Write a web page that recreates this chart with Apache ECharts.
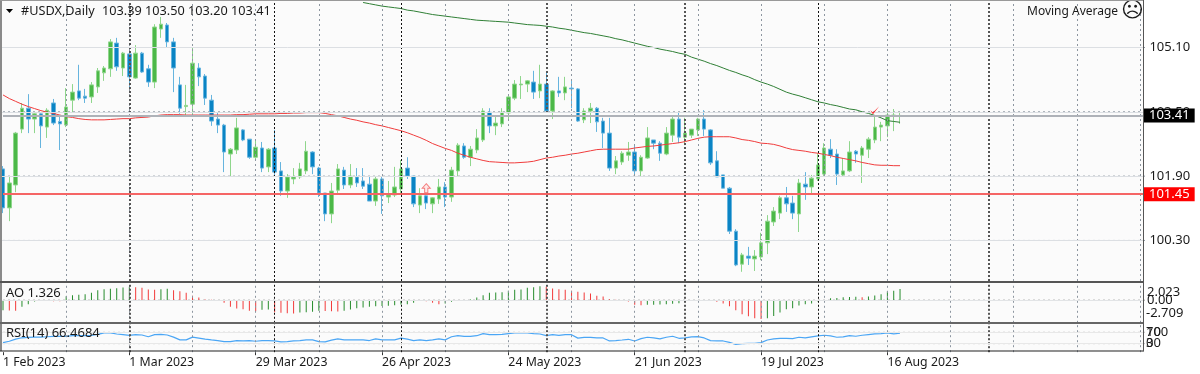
<!DOCTYPE html>
<html>
<head>
<meta charset="utf-8">
<title>#USDX Daily</title>
<style>
html, body { margin: 0; padding: 0; background: #fff; }
#wrap { position: relative; width: 1200px; height: 374px; }
#panes { position: absolute; left: 2px; top: 1px; width: 1141px; height: 350px; background: #fbfbfb; }
#main { position: absolute; left: 0; top: 0; width: 1200px; height: 374px; }
</style>
<script src="https://cdn.jsdelivr.net/npm/echarts@6/dist/echarts.min.js"></script>
</head>
<body>
<div id="wrap">
<div id="panes"></div>
<div id="main"></div>
</div>
<script>
// prices, one value per daily bar
var opens = [102.08,101.11,101.68,103.07,103.59,103.32,103.45,103.12,103.72,103.26,
103.17,103.79,104.02,103.89,103.87,104.12,104.47,104.57,105.21,104.59,
104.94,104.34,104.96,104.57,104.24,105.56,105.66,105.24,104.17,103.63,
103.69,104.59,104.39,103.79,103.32,103.17,102.45,102.55,103.05,102.82,
102.37,102.60,102.13,102.60,102.03,101.53,101.83,101.88,102.03,102.50,
102.10,101.48,100.96,101.55,102.05,101.68,101.88,101.78,101.70,101.28,
101.83,101.38,101.43,101.58,102.10,101.90,101.18,101.41,101.21,101.33,
101.63,101.38,102.03,102.65,102.37,102.55,102.80,103.49,103.15,103.20,
103.47,103.84,104.17,104.19,104.24,104.02,104.19,103.52,104.02,103.97,
104.09,104.07,103.30,103.52,103.59,103.27,102.97,102.10,102.25,102.42,
102.50,102.03,102.35,102.80,102.72,102.45,102.92,103.32,102.87,102.92,
103.05,103.32,103.05,102.28,101.93,101.60,100.53,99.71,99.91,99.84,
99.89,100.24,100.76,100.98,101.36,101.23,100.96,101.70,101.63,101.83,
101.95,102.57,102.45,101.93,102.03,102.52,102.42,102.57,102.80,103.12,
103.15,103.40,103.39];
var closes = [101.11,101.73,102.97,103.59,103.32,103.45,103.15,103.54,103.22,103.20,
103.62,103.99,103.84,103.84,104.17,104.52,104.59,105.24,104.62,104.96,
104.37,104.96,104.49,104.24,105.61,105.68,105.24,104.59,103.59,103.66,
104.71,104.37,103.84,103.27,103.17,102.50,102.57,103.10,102.80,102.37,
102.62,102.10,102.57,102.00,101.53,101.88,101.88,102.08,102.52,102.13,
101.48,100.96,101.53,102.08,101.68,101.90,101.73,101.65,101.28,101.83,
101.41,101.43,101.63,102.08,101.90,101.21,101.41,101.23,101.36,101.63,
101.38,102.05,102.67,102.37,102.57,102.85,103.52,103.15,103.22,103.49,
103.87,104.19,104.19,104.27,103.99,104.19,103.52,104.02,103.97,104.12,
104.07,103.27,103.52,103.59,103.25,102.97,102.10,102.28,102.47,102.50,
102.03,102.37,102.85,102.72,102.47,102.97,103.32,102.87,102.97,103.07,
103.32,103.07,102.23,101.88,101.60,100.53,99.69,99.94,99.86,99.91,
100.24,100.78,101.03,101.36,101.21,100.98,101.73,101.63,101.85,102.18,
102.60,102.42,101.95,102.03,102.50,102.45,102.60,102.82,103.12,103.17,
103.42,103.42,103.41];
var lows = [100.98,100.78,101.50,102.97,102.97,102.97,102.60,102.85,103.17,102.55,
103.12,103.49,103.79,103.72,103.72,103.97,104.27,104.37,104.52,104.39,
104.04,104.32,104.47,104.12,104.09,105.34,105.11,103.99,103.45,103.42,
103.37,104.14,103.67,103.15,102.97,102.00,101.88,102.45,102.77,102.33,
102.30,102.00,102.00,101.93,101.41,101.36,101.70,101.83,101.95,101.95,
101.38,100.78,100.73,101.48,101.58,101.60,101.63,101.58,101.28,101.16,
100.96,101.23,101.38,101.43,101.83,101.13,100.98,101.08,100.98,101.21,
101.13,101.26,101.90,102.33,102.15,102.47,102.75,102.97,102.92,103.12,
103.32,103.79,103.82,103.99,103.82,103.84,103.49,103.32,103.87,103.79,
103.59,103.25,103.22,103.22,103.00,102.60,102.03,101.95,102.18,102.28,
101.95,101.88,102.33,102.57,102.28,102.42,102.75,102.72,102.67,102.85,
102.90,102.90,102.18,101.88,101.60,100.46,99.66,99.52,99.69,99.54,
99.81,99.96,100.66,100.83,101.01,100.83,100.51,101.31,101.48,101.78,
101.88,102.35,101.68,101.90,102.00,102.23,101.73,102.35,102.72,102.77,
102.87,103.02,103.20];
var highs = [102.15,101.90,103.00,103.72,103.94,103.47,103.47,103.59,103.82,103.38,
104.09,104.19,104.67,104.07,104.24,104.59,104.64,105.31,105.34,104.99,
105.09,105.16,104.99,104.67,105.68,105.86,105.71,105.34,104.37,104.17,
105.09,104.71,104.44,103.92,103.49,103.20,102.60,103.35,103.07,102.82,
102.82,102.75,102.60,103.05,102.25,101.95,102.10,102.23,102.77,102.52,
102.13,101.48,101.73,102.20,102.13,102.20,102.10,102.10,101.88,101.90,
101.88,101.78,102.13,102.30,102.37,101.90,101.60,101.55,101.38,101.83,
101.75,102.13,102.72,102.72,102.65,103.07,103.59,103.59,103.37,103.59,
103.89,104.29,104.39,104.29,104.52,104.67,104.47,104.04,104.37,104.37,
104.27,104.09,103.59,103.72,103.62,103.35,103.35,102.40,102.52,102.75,
102.67,102.42,103.12,102.80,102.77,103.12,103.40,103.49,103.35,103.07,
103.35,103.54,103.07,102.52,101.93,101.63,100.58,99.99,100.14,100.06,
100.49,100.93,101.13,101.41,101.63,101.41,101.83,102.00,101.93,102.47,
102.72,102.82,102.57,102.35,102.77,102.55,102.65,102.87,103.40,103.25,
103.57,103.57,103.50];

// red moving average
var maFast = [103.92,103.83,103.76,103.69,103.63,103.58,103.53,103.49,103.46,103.42,
103.38,103.36,103.33,103.31,103.30,103.30,103.30,103.31,103.32,103.33,
103.33,103.35,103.36,103.37,103.40,103.42,103.43,103.43,103.43,103.42,
103.42,103.42,103.42,103.42,103.42,103.42,103.42,103.43,103.43,103.44,
103.45,103.45,103.45,103.45,103.46,103.46,103.47,103.47,103.48,103.48,
103.48,103.46,103.43,103.40,103.36,103.32,103.29,103.25,103.22,103.18,
103.15,103.11,103.07,103.03,102.98,102.92,102.86,102.79,102.71,102.65,
102.59,102.54,102.47,102.42,102.37,102.33,102.29,102.26,102.25,102.24,
102.23,102.23,102.24,102.25,102.27,102.31,102.35,102.37,102.40,102.42,
102.45,102.47,102.50,102.53,102.56,102.57,102.57,102.57,102.57,102.57,
102.60,102.62,102.64,102.65,102.67,102.69,102.71,102.73,102.76,102.80,
102.84,102.87,102.88,102.88,102.88,102.88,102.85,102.81,102.79,102.76,
102.72,102.71,102.69,102.65,102.60,102.56,102.54,102.52,102.49,102.47,
102.44,102.41,102.37,102.34,102.31,102.28,102.24,102.21,102.18,102.17,
102.17,102.16,102.16];
// green moving average, above the top of the pane before this bar
var maSlowStart = 57;
var maSlow = [106.22,106.19,106.16,106.13,106.11,106.09,106.07,106.03,106.01,105.98,
105.95,105.92,105.90,105.88,105.86,105.84,105.82,105.80,105.78,105.77,
105.76,105.75,105.74,105.73,105.71,105.69,105.67,105.66,105.65,105.63,
105.61,105.58,105.56,105.53,105.50,105.47,105.45,105.42,105.39,105.36,
105.32,105.29,105.25,105.21,105.17,105.13,105.10,105.06,105.03,105.00,
104.96,104.93,104.86,104.81,104.76,104.70,104.65,104.59,104.53,104.48,
104.42,104.37,104.30,104.24,104.19,104.13,104.06,103.99,103.94,103.90,
103.85,103.80,103.75,103.72,103.68,103.65,103.61,103.57,103.55,103.50,
103.46,103.41,103.35,103.28,103.26,103.24];

var aoValues = [-1.20,-1.24,-1.26,-0.80,-0.48,-0.16,-0.08,-0.10,-0.12,-0.14,
0.48,0.60,0.64,0.72,0.88,1.20,1.32,1.36,1.44,1.52,
1.60,1.56,1.48,1.28,1.24,1.32,1.36,1.20,1.08,0.88,
0.52,0.32,0.08,0.04,0.02,-0.32,-0.80,-1.00,-1.08,-1.28,
-1.32,-1.16,-1.12,-1.44,-1.52,-1.56,-1.60,-1.48,-1.44,-1.40,
-1.26,-1.30,-1.32,-1.36,-1.28,-1.12,-0.96,-0.88,-0.80,-0.72,
-0.70,-0.68,-0.60,-0.52,-0.48,-0.32,-0.08,-0.12,-0.32,-0.48,
-0.40,-0.20,-0.04,0.02,0.08,0.32,0.60,0.88,0.92,0.96,
1.12,1.24,1.28,1.48,1.56,1.66,1.62,1.40,1.32,1.24,
1.12,1.00,0.92,0.80,0.52,0.44,0.12,0.04,-0.08,-0.16,
-0.56,-0.60,-0.56,-0.54,-0.52,-0.50,-0.44,-0.36,-0.12,-0.04,
0.00,0.02,-0.04,-0.20,-0.40,-0.72,-1.20,-1.68,-1.92,-2.16,
-2.24,-2.16,-1.88,-1.48,-1.08,-0.96,-0.64,-0.48,-0.40,-0.16,
0.00,0.24,0.26,0.36,0.38,0.40,0.34,0.44,0.56,0.72,
1.08,1.12,1.326];

var rsiValues = [33.6,38.5,45.8,50.6,51.8,53,53,54.2,55.5,55.5,
55.5,57.9,57.9,57.9,59.1,62.7,67.6,67.6,63.9,61.5,
59.1,61.5,60.3,54.2,61.5,62.7,60.3,53,43.3,43.3,
53,49.4,45.8,43.3,40.9,37.3,37.3,40.9,39.7,40.9,
38.5,40.9,40.9,39.7,36.1,37.3,39.7,40.9,
43.3,43.3,37.3,36.1,42.1,47,43.3,43.3,43.3,43.3,
40.9,47,43.3,43.3,43.3,49.4,45.8,40.9,43.3,40.9,
43.3,47,43.3,54.2,57.9,55.5,55.5,57.9,65.2,61.5,
61.5,62.7,65.2,67.6,67.6,67.6,65.2,63.9,57.9,61.5,
59.1,61.5,61.5,49.4,51.8,51.8,50.6,
50,39.4,40.6,42.9,45.3,39.4,47.6,52.4,50,46.5,
52.4,55.9,48.8,50,53.5,54.7,50,40.6,39.4,39.4,
34.7,27.6,30,31.2,31.2,33.5,42.9,46.5,48.8,48.8,
47.6,52.4,50,53.5,57.1,59.4,57.1,52.4,53.5,58.2,
55.9,59.4,61.8,64.1,65.3,67.6,64.1,66.47];

var priceTicks = [100.30, 101.90, 103.50, 105.10];
var aoLevels = [0];
var rsiLevels = [30, 70];
var lastPrice = 103.41;
var alertPrice = 101.45;
var arrowBar = 67, arrowPrice = 101.60;
var checkBar = 138, checkPrice = 103.54;
// bars where the chart draws its darker period separators
var blackSeps = [43, 63, 129];
var greySeps = [20, 86, 108, 156];
var labelStep = 20, lastLabelBar = 140, gridStep = 10;
var barCount = 182;
var monthNames = ['Jan','Feb','Mar','Apr','May','Jun','Jul','Aug','Sep','Oct','Nov','Dec'];

// weekdays from 1 Feb 2023, the chart keeps going past the last bar
var categories = [];
var day = new Date(Date.UTC(2023, 1, 1));
while (categories.length < barCount) {
    if (day.getUTCDay() !== 0 && day.getUTCDay() !== 6) {
        categories.push(day.getUTCDate() + ' ' + monthNames[day.getUTCMonth()] + ' ' + day.getUTCFullYear());
    }
    day = new Date(day.getTime() + 86400000);
}

var candleData = opens.map(function (o, i) {
    return [o, closes[i], lows[i], highs[i]];
});
var slowData = new Array(maSlowStart).fill(null).concat(maSlow);

var FONT = '"Noto Sans", sans-serif';
var GRID_COLOR = '#8d96a0';
var paneLeft = 3, paneWidth = 1143.4, paneRight = 1143;

// vertical steps, period separators and a faint solid base for the horizontal levels
function gridLines(levels, levelColor) {
    var items = [];
    for (var b = gridStep; b < barCount - 1; b += gridStep) {
        items.push({ xAxis: b, lineStyle: { color: GRID_COLOR, width: 1, type: [2, 3] } });
    }
    blackSeps.forEach(function (b) {
        items.push({ xAxis: b, lineStyle: { color: '#111', width: 1, type: [2, 2] } });
    });
    greySeps.forEach(function (b) {
        items.push({ xAxis: b, lineStyle: { color: '#555', width: 2, type: [2, 2] } });
    });
    levels.forEach(function (v) {
        items.push([
            { x: 2, yAxis: v, lineStyle: { color: levelColor, width: 1, type: 'solid' } },
            { x: paneRight, yAxis: v }
        ]);
    });
    return items;
}

function paneMarkLine(levels, levelColor) {
    return { silent: true, symbol: 'none', label: { show: false }, animation: false, data: gridLines(levels, levelColor) };
}

// dashed horizontal level, from the first category to the last so it pokes out as a tick at the scale
function levelSeries(gridIndex, levels, color) {
    return levels.map(function (v) {
        return {
            type: 'line', xAxisIndex: gridIndex, yAxisIndex: gridIndex, z: 1, silent: true,
            showSymbol: false, data: [[0, v], [barCount - 1, v]],
            lineStyle: { color: color, width: 1, type: [2, 3] }
        };
    });
}

function paneAxis(gridIndex) {
    return {
        type: 'category', gridIndex: gridIndex, data: categories, boundaryGap: false,
        axisLine: { show: false }, axisTick: { show: false }, axisLabel: { show: false },
        splitLine: { show: false }
    };
}

function text(str, x, y, extra) {
    return {
        text: str, left: x, top: y, padding: 0,
        textStyle: Object.assign({ fontFamily: FONT, fontSize: 13, fontWeight: 'normal', color: '#1a1a1a' }, extra || {})
    };
}

function levelLabel(bg) {
    return {
        show: true, position: 'end', distance: 1, formatter: function (p) { return p.data.value !== undefined ? Number(p.data.value).toFixed(2) : ''; },
        backgroundColor: bg, color: '#fff', fontFamily: FONT, fontSize: 13, padding: [0, 5, 0, 5], lineHeight: 14
    };
}

var bottomAxis = paneAxis(2);
bottomAxis.axisLabel = {
    show: true, align: 'left', margin: 4, fontFamily: FONT, fontSize: 12.3, color: '#1a1a1a', hideOverlap: false,
    interval: function (i) { return i % labelStep === 0 && i <= lastLabelBar; }
};
bottomAxis.axisTick = {
    show: true, length: 3, lineStyle: { color: '#333' },
    interval: function (i) { return i % labelStep === 0 && i <= lastLabelBar; }
};

var chart = echarts.init(document.getElementById('main'), null, { renderer: 'canvas' });
var option = {
    animation: false,
    backgroundColor: 'transparent',
    title: [
        text('#USDX,Daily', 21, 5, { fontSize: 12.7 }),
        text('103.39 103.50 103.20 103.41', 102, 5, { fontSize: 12.7 }),
        text('Moving Average', 1027, 6, { fontSize: 12 }),
        text('\u2639', 1121, 0, { fontFamily: '"DejaVu Sans"', fontSize: 22 }),
        text('AO 1.326', 6, 287),
        text('RSI(14) 66.4684', 6, 327),
        text('2.023', 1147, 286),
        text('0.00', 1147, 294),
        text('-2.709', 1146, 307),
        text('100', 1146, 326),
        text('70', 1146, 326),
        text('30', 1146, 337),
        text('0', 1146, 337)
    ],
    graphic: [
        { type: 'polygon', z: 20, silent: true, shape: { points: [[6, 9], [13, 9], [9.5, 13]] }, style: { fill: '#000' } },
        { type: 'rect', z: 20, silent: true, shape: { x: 0, y: 0, width: 2, height: 351 }, style: { fill: '#8a8a8a' } },
        { type: 'rect', z: 20, silent: true, shape: { x: 0, y: 0, width: paneRight, height: 1 }, style: { fill: '#999' } },
        { type: 'rect', z: 20, silent: true, shape: { x: 0, y: 281, width: paneRight + 1, height: 2 }, style: { fill: '#555' } },
        { type: 'rect', z: 20, silent: true, shape: { x: 0, y: 322, width: paneRight + 1, height: 2 }, style: { fill: '#666' } },
        { type: 'rect', z: 20, silent: true, shape: { x: 0, y: 350.5, width: paneRight + 1, height: 1 }, style: { fill: '#222' } },
        { type: 'rect', z: 20, silent: true, shape: { x: paneRight, y: 0, width: 1, height: 351 }, style: { fill: '#555' } }
    ],
    grid: [
        { left: paneLeft, top: 1, width: paneWidth, height: 280 },
        { left: paneLeft, top: 283.3, width: paneWidth, height: 39.5 },
        { left: paneLeft, top: 323.7, width: paneWidth, height: 28.5 }
    ],
    xAxis: [paneAxis(0), paneAxis(1), bottomAxis],
    yAxis: [
        {
            gridIndex: 0, type: 'value', position: 'right', scale: true, min: 99.291, max: 106.257,
            axisLine: { show: false },
            axisTick: { show: false, customValues: priceTicks },
            axisLabel: {
                customValues: priceTicks, margin: 3, align: 'left', fontFamily: FONT, fontSize: 13, color: '#1a1a1a',
                formatter: function (v) { return v.toFixed(2); }
            },
            splitLine: { show: false }
        },
        {
            gridIndex: 1, type: 'value', position: 'right', min: -2.709, max: 2.023,
            axisLine: { show: false }, axisTick: { show: false }, axisLabel: { show: false }, splitLine: { show: false }
        },
        {
            gridIndex: 2, type: 'value', position: 'right', min: 0, max: 100,
            axisLine: { show: false }, axisTick: { show: false }, axisLabel: { show: false }, splitLine: { show: false }
        }
    ],
    series: [
        {
            // empty holder for the horizontal levels and separators, under the candles
            name: 'levels', type: 'line', xAxisIndex: 0, yAxisIndex: 0, z: 1, data: [], silent: true,
            markLine: {
                silent: true, symbol: 'none', animation: false,
                data: gridLines(priceTicks, '#dcdfe3').concat([
                    [
                        { x: 3, yAxis: lastPrice, value: lastPrice, lineStyle: { color: '#aeb2b8', width: 2, type: 'solid' }, label: levelLabel('#000') },
                        { x: paneRight, yAxis: lastPrice }
                    ],
                    [
                        { x: 3, yAxis: alertPrice, value: alertPrice, lineStyle: { color: '#f56565', width: 2, type: 'solid' }, label: levelLabel('#ff0000') },
                        { x: paneRight, yAxis: alertPrice }
                    ]
                ]),
                label: { show: false }
            }
        },
        {
            name: '#USDX', type: 'candlestick', xAxisIndex: 0, yAxisIndex: 0, z: 3, clip: false,
            barWidth: 4, data: candleData,
            itemStyle: {
                color: '#4cb848', color0: '#0a84c4',
                borderColor: '#8fd68c', borderColor0: '#66b4de', borderColorDoji: '#8fd68c', borderWidth: 1
            },
            markPoint: {
                silent: true, animation: false,
                data: [
                    {
                        coord: [arrowBar, arrowPrice], symbol: 'path://M5,0 L10,5 L7,5 L7,10 L3,10 L3,5 L0,5 Z', symbolSize: [8, 9],
                        itemStyle: { color: '#fde8e8', borderColor: '#f47c7c', borderWidth: 1 }, label: { show: false }
                    },
                    {
                        coord: [checkBar, checkPrice], symbol: 'path://M0,5 L3,8 L10,0 L3,10 Z', symbolSize: [9, 8],
                        itemStyle: { color: '#f22' }, label: { show: false }
                    }
                ]
            }
        },
        {
            name: 'MA slow', type: 'line', xAxisIndex: 0, yAxisIndex: 0, z: 4, data: slowData,
            showSymbol: false, connectNulls: false, lineStyle: { color: '#2f7f35', width: 1 }, silent: true
        },
        {
            name: 'MA fast', type: 'line', xAxisIndex: 0, yAxisIndex: 0, z: 4, data: maFast,
            showSymbol: false, lineStyle: { color: '#f03c3c', width: 1 }, silent: true
        },
        {
            name: 'AO', type: 'bar', xAxisIndex: 1, yAxisIndex: 1, barWidth: 1, silent: true,
            data: aoValues,
            itemStyle: {
                color: function (p) {
                    // falling value is red, rising is green
                    if (p.dataIndex > 0 && aoValues[p.dataIndex] < aoValues[p.dataIndex - 1]) return '#f23a3a';
                    return '#268c2c';
                }
            },
            markLine: paneMarkLine(aoLevels, '#e2e4e6')
        },
        {
            name: 'RSI(14)', type: 'line', xAxisIndex: 2, yAxisIndex: 2, data: rsiValues,
            showSymbol: false, lineStyle: { color: '#4ba6f5', width: 1.2 }, silent: true,
            markLine: paneMarkLine(rsiLevels, '#e8e8e8')
        }
    ].concat(
        levelSeries(0, priceTicks, GRID_COLOR),
        levelSeries(1, aoLevels, '#9a9a9a'),
        levelSeries(2, rsiLevels, '#bdbdbd')
    )
};
chart.setOption(option);
</script>
</body>
</html>
